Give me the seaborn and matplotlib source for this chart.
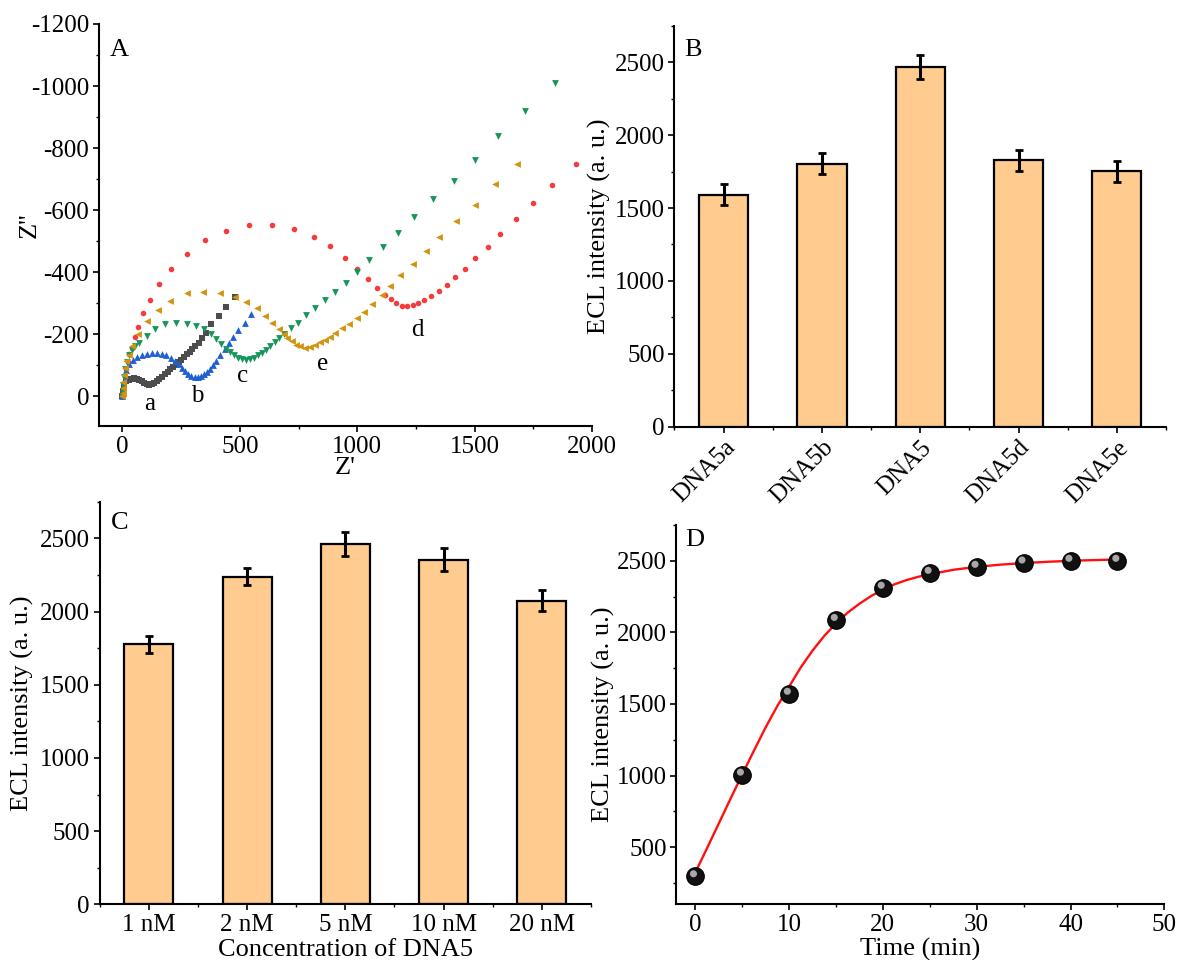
import numpy as np
import pandas as pd
import matplotlib
matplotlib.use("Agg")
import matplotlib.pyplot as plt
import matplotlib.transforms as mtransforms
from matplotlib.ticker import MultipleLocator, AutoMinorLocator
import seaborn as sns

# ---------------- data ----------------
# Panel A: Nyquist plots (Z' , Z'')
a_x = [0, 1, 3, 7, 15, 26, 36, 47, 60, 72, 83, 93, 104, 114, 124, 136, 146, 157, 169, 181,
       193, 204, 217, 228, 240, 251, 263, 274, 286, 297, 310, 324, 340, 357, 378, 410, 443, 478]
a_y = [0, -5, -19, -36, -49, -54, -57, -59, -57, -54, -50, -43, -39, -38, -39, -43, -50, -56, -63, -71,
       -80, -87, -95, -102, -110, -119, -127, -136, -144, -152, -162, -173, -188, -206, -232, -259, -289, -321]

d_x = [0, 2, 5, 9, 14, 22, 29, 39, 53, 67, 86, 117, 157, 207, 274, 352, 442, 540, 635, 730,
       815, 885, 949, 1000, 1044, 1085, 1117, 1142, 1166, 1191, 1212, 1236, 1258, 1286, 1316, 1349,
       1381, 1417, 1460, 1502, 1555, 1610, 1676, 1748, 1831, 1931]
d_y = [0, -20, -42, -63, -87, -111, -136, -157, -190, -224, -270, -311, -361, -412, -460, -505, -534, -553, -553, -539,
       -514, -484, -447, -412, -378, -349, -327, -313, -300, -293, -292, -294, -300, -310, -323, -339,
       -358, -384, -412, -445, -483, -523, -571, -622, -682, -750]

b_x = [0, 1, 3, 9, 17, 29, 43, 62, 82, 103, 124, 146, 167, 187, 207, 224, 240, 254, 267, 280,
       293, 307, 321, 334, 347, 360, 372, 385, 398, 417, 435, 454, 471, 492, 521, 549]
b_y = [0, -10, -30, -57, -84, -106, -119, -127, -134, -138, -140, -140, -137, -132, -124, -114, -104, -92, -81, -72,
       -66, -63, -64, -67, -72, -80, -89, -100, -113, -135, -152, -172, -192, -213, -238, -267]

c_x = [0, 1, 3, 6, 11, 18, 28, 40, 55, 72, 103, 139, 179, 226, 274, 314, 347, 375, 400, 421,
       439, 457, 474, 491, 508, 525, 542, 559, 578, 595, 613, 630, 649, 668, 688, 716, 746, 782,
       819, 861, 906, 950, 998, 1051, 1108, 1174, 1242, 1322, 1411, 1502, 1601, 1715, 1843]
c_y = [0, -15, -38, -62, -88, -112, -133, -150, -163, -173, -196, -218, -232, -237, -235, -228, -216, -201, -184, -168,
       -154, -142, -133, -124, -120, -119, -121, -125, -133, -141, -151, -162, -174, -187, -200, -219, -238, -262,
       -286, -311, -336, -367, -401, -440, -481, -528, -578, -636, -695, -762, -839, -920, -1011]

e_x = [0, 1, 2, 4, 7, 11, 17, 26, 40, 64, 103, 150, 204, 274, 343, 414, 478, 528, 573, 609,
       639, 666, 688, 702, 720, 739, 756, 777, 799, 820, 841, 863, 884, 906, 934, 963, 998, 1030,
       1062, 1105, 1141, 1184, 1236, 1293, 1350, 1420, 1500, 1585, 1679]
e_y = [0, -12, -28, -48, -70, -92, -113, -135, -162, -201, -244, -278, -308, -332, -337, -332, -321, -304, -284, -260,
       -237, -216, -201, -189, -178, -167, -162, -157, -160, -165, -174, -181, -192, -205, -219, -235, -254, -273,
       -298, -327, -356, -390, -427, -468, -513, -565, -618, -683, -750]

curve_labels = ["a", "b", "c", "d", "e"]
curve_label_x = [114, 318, 511, 1257, 851]
curve_label_y = [24, -3, -65, -213, -106]

# Panel B
b_cats = ["DNA5a", "DNA5b", "DNA5", "DNA5d", "DNA5e"]
b_vals = [1590, 1805, 2468, 1827, 1752]
b_errs = [72, 73, 82, 73, 71]

# Panel C
c_cats = ["1 nM", "2 nM", "5 nM", "10 nM", "20 nM"]
c_vals = [1776, 2238, 2461, 2354, 2074]
c_errs = [58, 60, 82, 78, 70]

# Panel D
d_time = [0, 5, 10, 15, 20, 25, 30, 35, 40, 45]
d_ecl = [296, 1006, 1571, 2087, 2312, 2416, 2458, 2488, 2500, 2500]
fit_time = [0, 1.25, 2.5, 3.75, 5, 6.25, 7.5, 8.75, 10, 11.25, 12.5, 13.75, 15, 16.25, 17.5, 18.75,
            20, 21.25, 22.5, 23.75, 25, 27.5, 30, 32.5, 35, 37.5, 40, 42.5, 45]
fit_ecl = [320, 490, 662, 835, 1005, 1172, 1335, 1485, 1620, 1755, 1872, 1975, 2062, 2138, 2200, 2254,
           2300, 2336, 2365, 2388, 2406, 2437, 2458, 2473, 2484, 2493, 2500, 2505, 2509]

# ---------------- style ----------------
sns.set_theme(style="ticks")
plt.rcParams["font.family"] = ["Liberation Serif", "DejaVu Serif"]
plt.rcParams.update({
    "axes.unicode_minus": False,
    "axes.linewidth": 1.5,
    "axes.edgecolor": "black",
    "xtick.direction": "out",
    "ytick.direction": "out",
    "xtick.major.size": 4,
    "ytick.major.size": 4,
    "xtick.minor.size": 2.2,
    "ytick.minor.size": 2.2,
    "xtick.major.width": 1.2,
    "ytick.major.width": 1.2,
    "xtick.minor.width": 1.0,
    "ytick.minor.width": 1.0,
    "xtick.color": "black",
    "ytick.color": "black",
    "xtick.labelsize": 18,
    "ytick.labelsize": 18,
    "axes.labelsize": 19,
    "text.color": "black",
    "axes.labelcolor": "black",
})

TICK_FS = 18
LABEL_FS = 19
LETTER_FS = 19
BAR_COLOR = "#FFCB8E"

fig = plt.figure(figsize=(11.8, 9.6), dpi=100)
fig.patch.set_facecolor("white")

axA = fig.add_axes([0.0839, 0.5563, 0.4178, 0.4187])
axB = fig.add_axes([0.5716, 0.5555, 0.4165, 0.4176])
axC = fig.add_axes([0.0845, 0.0580, 0.4163, 0.4194])
axD = fig.add_axes([0.5732, 0.0580, 0.4136, 0.3951])

for ax in (axA, axB, axC, axD):
    ax.set_facecolor("white")
    sns.despine(ax=ax)
    ax.spines["left"].set_linewidth(1.5)
    ax.spines["bottom"].set_linewidth(1.5)


def place_labels(ax, xlabel, ylabel, ycoord, xcoord):
    ax.set_xlabel(xlabel, fontsize=LABEL_FS)
    ax.set_ylabel(ylabel, fontsize=LABEL_FS)
    ax.yaxis.set_label_coords(ycoord[0], ycoord[1])
    ax.yaxis.label.set_verticalalignment("center")
    ax.xaxis.set_label_coords(xcoord[0], xcoord[1])
    ax.xaxis.label.set_verticalalignment("center")


# ---------------- Panel A ----------------
series = [
    (a_x, a_y, "s", "#4D4D4D", 13),
    (d_x, d_y, "o", "#F43C3C", 16),
    (b_x, b_y, "^", "#1F5FD2", 24),
    (c_x, c_y, "v", "#17955A", 24),
    (e_x, e_y, "<", "#D4930C", 24),
]
for xs, ys, mk, col, sz in series:
    sns.scatterplot(x=xs, y=ys, marker=mk, color=col, s=sz, linewidth=0, ax=axA, legend=False)

axA.set_xlim(-100, 2000)
axA.set_ylim(95, -1200)
axA.xaxis.set_major_locator(MultipleLocator(500))
axA.xaxis.set_minor_locator(MultipleLocator(250))
axA.yaxis.set_major_locator(MultipleLocator(200))
axA.yaxis.set_minor_locator(MultipleLocator(100))
for lab, lx, ly in zip(curve_labels, curve_label_x, curve_label_y):
    axA.text(lx, ly, lab, fontsize=18, ha="center", va="center")
axA.text(0.041, 0.935, "A", transform=axA.transAxes, fontsize=LETTER_FS, ha="center", va="center")
place_labels(axA, "Z'", "Z''", (-0.14, 0.5), (0.5, -0.105))

# ---------------- Panel B ----------------
dfB = pd.DataFrame({"cat": b_cats, "val": b_vals})
sns.barplot(data=dfB, x="cat", y="val", color=BAR_COLOR, saturation=1, width=0.5,
            edgecolor="black", linewidth=1.6, errorbar=None, ax=axB)
axB.errorbar(np.arange(len(b_cats)), b_vals, yerr=b_errs, fmt="none", ecolor="black",
             elinewidth=2.2, capsize=3, capthick=2.0, zorder=5)
axB.set_xlim(-0.5, 4.5)
axB.set_ylim(0, 2750)
axB.yaxis.set_major_locator(MultipleLocator(500))
axB.yaxis.set_minor_locator(MultipleLocator(250))
axB.xaxis.set_minor_locator(AutoMinorLocator(2))
for t in axB.get_xticklabels():
    t.set_rotation(45)
    t.set_ha("right")
    t.set_rotation_mode("anchor")
axB.text(0.038, 0.939, "B", transform=axB.transAxes, fontsize=LETTER_FS, ha="center", va="center")
place_labels(axB, "", "ECL intensity (a. u.)", (-0.153, 0.5), (0.5, -0.1))

# ---------------- Panel C ----------------
dfC = pd.DataFrame({"cat": c_cats, "val": c_vals})
sns.barplot(data=dfC, x="cat", y="val", color=BAR_COLOR, saturation=1, width=0.5,
            edgecolor="black", linewidth=1.6, errorbar=None, ax=axC)
axC.errorbar(np.arange(len(c_cats)), c_vals, yerr=c_errs, fmt="none", ecolor="black",
             elinewidth=2.2, capsize=3, capthick=2.0, zorder=5)
axC.set_xlim(-0.5, 4.5)
axC.set_ylim(0, 2750)
axC.yaxis.set_major_locator(MultipleLocator(500))
axC.yaxis.set_minor_locator(MultipleLocator(250))
axC.xaxis.set_minor_locator(AutoMinorLocator(2))
axC.text(0.040, 0.947, "C", transform=axC.transAxes, fontsize=LETTER_FS, ha="center", va="center")
place_labels(axC, "Concentration of DNA5", "ECL intensity (a. u.)", (-0.157, 0.5), (0.5, -0.113))

# ---------------- Panel D ----------------
sns.lineplot(x=fit_time, y=fit_ecl, color="#FF1010", linewidth=1.7, ax=axD, zorder=3)
sns.scatterplot(x=d_time, y=d_ecl, color="#111111", s=160, edgecolor="#000000", linewidth=0.8,
                ax=axD, zorder=4, legend=False)
hl = mtransforms.offset_copy(axD.transData, fig=fig, x=-1.2, y=1.8, units="points")
axD.scatter(d_time, d_ecl, s=26, color="#A8A8A8", edgecolor="none", transform=hl, zorder=5)
axD.set_xlim(-2, 50)
axD.set_ylim(100, 2750)
axD.xaxis.set_major_locator(MultipleLocator(10))
axD.xaxis.set_minor_locator(MultipleLocator(5))
axD.yaxis.set_major_locator(MultipleLocator(500))
axD.yaxis.set_minor_locator(MultipleLocator(250))
axD.text(0.038, 0.960, "D", transform=axD.transAxes, fontsize=LETTER_FS, ha="center", va="center")
place_labels(axD, "Time (min)", "ECL intensity (a. u.)", (-0.150, 0.5), (0.5, -0.118))

for ax in (axA, axB, axC, axD):
    ax.tick_params(axis="both", which="major", labelsize=TICK_FS, pad=3)

fig.savefig("out.png", dpi=100)
